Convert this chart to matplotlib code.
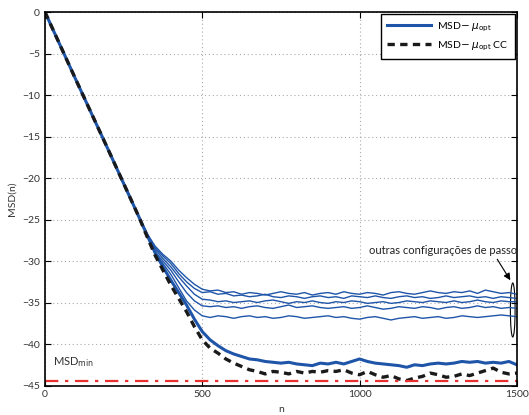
import matplotlib
matplotlib.use("Agg")
import matplotlib.pyplot as plt
from matplotlib.patches import Ellipse

plt.rcParams['font.family'] = ['Lato', 'DejaVu Sans']
plt.rcParams['mathtext.fontset'] = 'dejavusans'

# eixo das iteracoes
n = [0, 100, 200, 300, 325, 350, 375, 400, 425, 450, 475,
     500, 525, 550, 575, 600, 625, 650, 675, 700, 725, 750, 775, 800, 825, 850, 875, 900,
     925, 950, 975, 1000, 1025, 1050, 1075, 1100, 1125, 1150, 1175, 1200, 1225, 1250,
     1275, 1300, 1325, 1350, 1375, 1400, 1425, 1450, 1475, 1500]

inicio = [0, -8.3, -16.5, -24.8]

msd_opt = inicio + [-26.9, -29.0, -30.7, -32.3, -33.8, -35.3, -37.0,
    -38.5, -39.5, -40.2, -40.8, -41.2, -41.5, -41.8, -41.9, -42.1, -42.2, -42.3, -42.2, -42.4,
    -42.5, -42.6, -42.3, -42.4, -42.2, -42.4, -42.1, -41.8, -42.1, -42.3, -42.4, -42.5, -42.6,
    -42.8, -42.5, -42.6, -42.4, -42.3, -42.4, -42.3, -42.1, -42.2, -42.1, -42.3, -42.2, -42.3,
    -42.1, -42.5]

msd_opt_cc = inicio + [-27.1, -29.3, -31.1, -32.9, -34.5, -36.1, -37.9,
    -39.5, -40.5, -41.1, -41.8, -42.3, -42.7, -43.1, -43.3, -43.6, -43.3, -43.4, -43.6, -43.3,
    -43.5, -43.3, -43.4, -43.2, -43.3, -43.1, -43.5, -43.7, -43.3, -43.7, -44.0, -43.8, -44.2,
    -44.4, -44.1, -43.9, -43.5, -43.7, -44.0, -43.9, -43.6, -43.8, -43.5, -43.2, -42.9, -43.4,
    -43.6, -43.5]

outros_1 = inicio + [-26.7, -28.2, -29.2, -30.0, -31.1, -32.0, -32.8,
    -33.4, -33.6, -33.5, -33.8, -33.7, -34.0, -33.8, -33.9, -34.1, -33.9, -33.7, -33.9, -34.0,
    -33.8, -34.1, -33.9, -33.8, -34.0, -33.7, -33.9, -34.0, -33.8, -33.9, -34.1, -33.8, -33.7,
    -33.9, -34.0, -33.8, -33.6, -33.8, -33.9, -33.7, -33.8, -33.6, -33.9, -33.5, -33.7, -33.9,
    -33.8, -34.0]
outros_2 = inicio + [-26.8, -28.4, -29.4, -30.3, -31.5, -32.5, -33.3,
    -33.8, -33.7, -34.0, -33.9, -34.2, -34.1, -34.3, -34.2, -34.0, -34.3, -34.4, -34.2, -34.3,
    -34.5, -34.3, -34.2, -34.4, -34.3, -34.5, -34.2, -34.3, -34.4, -34.2, -34.4, -34.5, -34.3,
    -34.2, -34.4, -34.3, -34.5, -34.4, -34.2, -34.4, -34.3, -34.2, -34.4, -34.3, -34.5, -34.3,
    -34.4, -34.5]
outros_3 = inicio + [-26.8, -28.6, -29.7, -30.7, -31.9, -33.0, -34.0,
    -34.6, -34.7, -34.9, -34.8, -35.0, -34.9, -34.8, -35.0, -34.8, -34.7, -34.9, -35.1, -34.9,
    -35.0, -34.8, -35.0, -35.1, -34.9, -35.0, -34.8, -34.9, -35.1, -35.0, -34.9, -35.1, -35.0,
    -34.8, -34.9, -35.0, -34.8, -34.9, -35.0, -34.8, -35.0, -34.9, -34.7, -34.9, -35.0, -34.8,
    -34.9, -34.9]
outros_4 = inicio + [-26.9, -28.9, -30.0, -31.1, -32.5, -33.8, -34.8,
    -35.4, -35.5, -35.4, -35.6, -35.5, -35.7, -35.5, -35.4, -35.6, -35.7, -35.5, -35.3, -35.6,
    -35.5, -35.4, -35.6, -35.7, -35.6, -35.5, -35.7, -35.6, -35.4, -35.6, -35.8, -35.7, -35.5,
    -35.6, -35.7, -35.5, -35.6, -35.8, -35.6, -35.5, -35.7, -35.6, -35.4, -35.6, -35.5, -35.7,
    -35.6, -35.7]
outros_5 = inicio + [-27.0, -29.1, -30.3, -31.6, -33.2, -34.8, -35.9,
    -36.6, -36.8, -36.6, -36.7, -36.9, -36.7, -36.6, -36.8, -36.7, -36.9, -36.8, -36.6, -36.7,
    -36.9, -36.8, -36.7, -36.6, -36.8, -36.7, -36.9, -37.0, -36.8, -36.7, -36.9, -37.1, -36.9,
    -36.8, -36.7, -36.9, -36.8, -36.7, -36.9, -36.8, -36.6, -36.7, -36.8, -36.7, -36.6, -36.5,
    -36.6, -36.7]
outros = [outros_1, outros_2, outros_3, outros_4, outros_5]

msd_min = -44.5

azul = '#1f55a8'

fig = plt.figure(figsize=(5.29, 4.15), dpi=100)
ax = fig.add_axes([0.085, 0.071, 0.892, 0.90])

for c in outros:
    ax.plot(n, c, color=azul, lw=1.0)
ax.plot(n, msd_opt, color=azul, lw=2.2, label=r'MSD$-$ $\mu_{\mathrm{opt}}$')
ax.plot(n, msd_opt_cc, color='#1a1a1a', lw=2.4, ls=(0, (2.2, 1.6)),
        label=r'MSD$-$ $\mu_{\mathrm{opt}}$ CC')
ax.plot([n[0], n[-1]], [msd_min, msd_min], color='#e8302e', lw=1.6, ls=(0, (6, 3, 1.5, 3)))

ax.set_xlim(0, 1500)
ax.set_ylim(-45, 0)
ax.set_xticks([0, 500, 1000, 1500])
ax.set_yticks(range(-45, 1, 5))
ax.grid(True, color='#aaaaaa', ls=(0, (1, 2.5)), lw=0.8)
ax.tick_params(direction='in', top=True, right=True, labelsize=7.5, length=4, width=0.8,
               labelcolor='#333333')
for s in ax.spines.values():
    s.set_linewidth(1.2)

ax.set_xlabel('n', fontsize=7.5, labelpad=4, color='#333333')
ax.set_ylabel('MSD(n)', fontsize=7.5, labelpad=4, color='#333333')

ax.text(25, -42.2, r'MSD$_{\mathrm{min}}$', fontsize=8, color='#333333', va='center')

ax.text(1030, -28.7, 'outras configurações de passo', fontsize=8, color='#222222', va='center')
ax.annotate('', xy=(1484, -32.6), xytext=(1433, -29.5),
            arrowprops=dict(arrowstyle='-|>', color='black', lw=0.8, mutation_scale=10))
ax.add_patch(Ellipse((1487, -35.9), 15, 6.5, fill=False, ec='black', lw=0.8))

leg = ax.legend(loc='upper right', fontsize=7.5, handlelength=4.2, fancybox=False,
                framealpha=1, edgecolor='black', borderpad=0.6, labelspacing=0.55,
                borderaxespad=0.2, handletextpad=0.6)
leg.get_frame().set_linewidth(1.0)

fig.savefig('out.png', dpi=100)
